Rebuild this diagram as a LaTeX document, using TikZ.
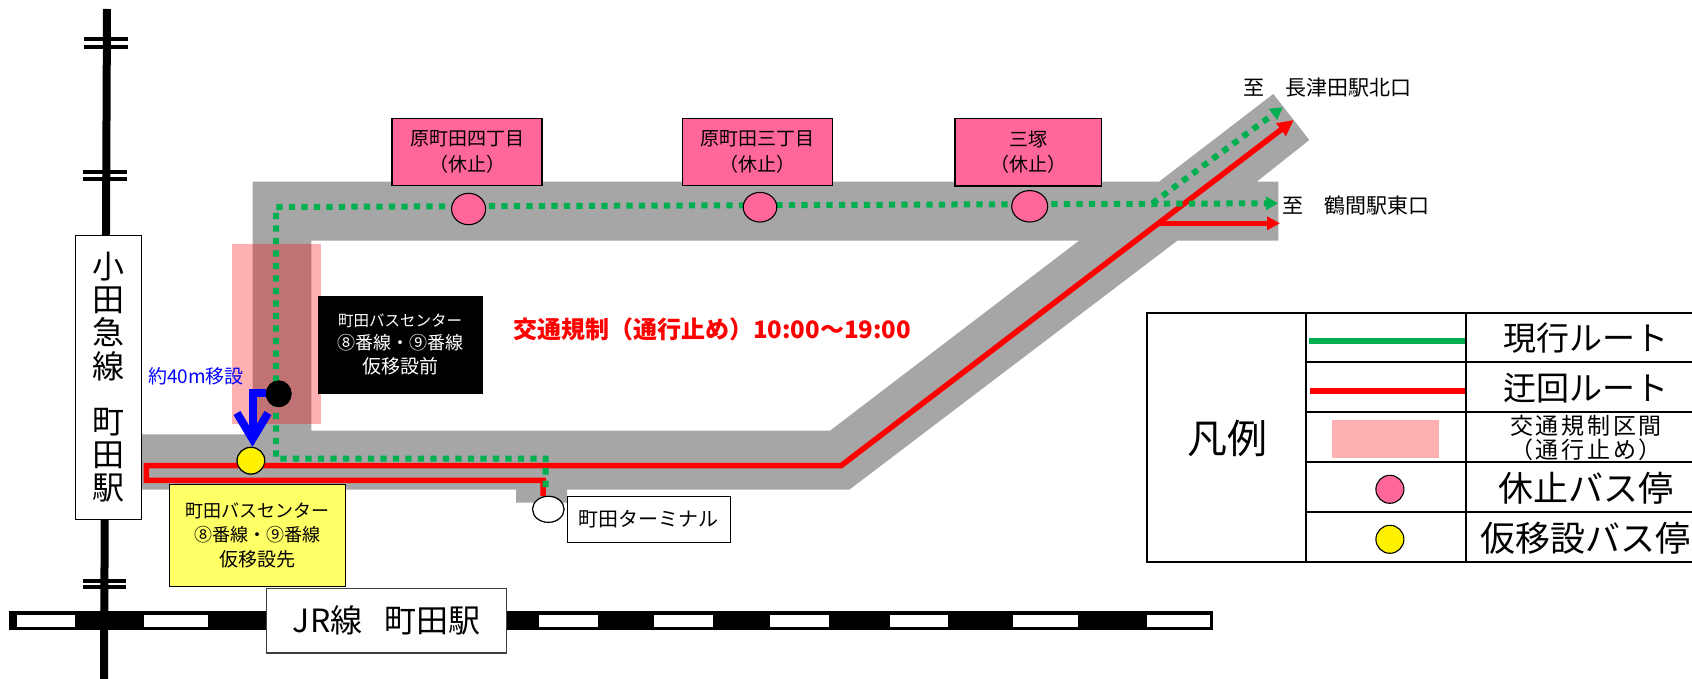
\documentclass[tikz,border=0pt]{standalone}
\usepackage{fontspec}
\setmainfont{Noto Sans CJK JP}
\newfontfamily\jpwide[LetterSpace=12]{Noto Sans CJK JP}
\usetikzlibrary{arrows.meta,shapes.geometric}
\definecolor{roadgray}{HTML}{A6A6A6}
\definecolor{routegreen}{HTML}{00B050}
\definecolor{stoppink}{HTML}{FF6699}
\definecolor{zonepink}{HTML}{FFB0B0}
\definecolor{boxyellow}{HTML}{FFFF66}
\newcommand{\fsz}[1]{\fontsize{#1}{#1}\selectfont}
\newcommand{\dnn}[1]{\raisebox{-2pt}{#1}}
\tikzset{
  lbl/.style={inner sep=0pt,align=center},
  tick/.style={line width=4pt},
  rail/.style={line width=8pt},
  boxed/.style={draw=black,line width=1.1pt,inner sep=0pt,align=center},
  pinkbox/.style={boxed,fill=stoppink,minimum height=67.5pt,font=\fsz{19},execute at begin node={\baselineskip=25.5pt}},
  stopmark/.style={ellipse,draw=black,line width=1.1pt,inner sep=0pt},
  greenroute/.style={draw=routegreen,line width=6pt,dash pattern=on 6.3pt off 6.2pt},
  redroute/.style={draw=red,line width=5.5pt},
  legline/.style={line width=2pt,draw=black},
}
\begin{document}
\begin{tikzpicture}[x=1pt,y=-1pt]
\useasboundingbox[fill=white] (0,0) rectangle (1692,679);
% Odakyu line
\coordinate (odT) at (107,9);
\coordinate (odB) at (104,679);
\draw[rail] (odT) -- (odB);
\foreach \yy in {39,46.7}{\draw[tick] (84,\yy) -- (128,\yy);}
\foreach \yy in {172,179}{\draw[tick] (83,\yy) -- (127,\yy);}
\foreach \yy in {580.5,587}{\draw[tick] (83,\yy) -- (126,\yy);}
% JR line
\fill[black] (8.6,611) rectangle (1212.7,630.3);
\foreach \xa/\xb in {16.8/75.4,144/207.5,539.3/598,654.3/713,770.3/829,889.7/948,1013.3/1077.7,1147.3/1209.7}{
  \fill[white] (\xa,614.8) rectangle (\xb,626.5);}
% Road
\fill[roadgray,even odd rule]
  (142,434.3) -- (252.5,434.3) -- (252.5,181.7) -- (1159,181.7) -- (1273.3,94) -- (1309.3,140)
  -- (1256.7,181.7) -- (1278.3,181.7) -- (1278.3,240.7) -- (1177.3,240.7) -- (849.3,489.7)
  -- (567,489.7) -- (567,502.7) -- (516,502.7) -- (516,489.7) -- (142,489.7) -- cycle
  (311.4,240.7) -- (1079,240.7) -- (830,430.7) -- (311.4,430.7) -- cycle;
% Closed zone
\fill[red,opacity=.31] (232,244) rectangle (321,423.7);
% Stops
\node[stopmark,fill=black,minimum width=24.6pt,minimum height=25.6pt] (stopOld) at (278.7,393.8) {};
\node[stopmark,fill=yellow,minimum width=27.6pt,minimum height=26.6pt] (stopNew) at (250.9,460.7) {};
\node[stopmark,fill=white,minimum width=31.4pt,minimum height=26pt] (stopTerm) at (548.3,509.3) {};
% Routes
\coordinate (rRight) at (841,465.7);
\coordinate (rTip) at (1293.7,120);
\coordinate (rLeftT) at (146.4,465.7);
\coordinate (rLeftB) at (146.4,480.3);
\coordinate (rTermTop) at (543,480.3);
\coordinate (rFork) at (1161.7,221.5);
\coordinate (rEast) at (1280,223.3);
\draw[redroute,line join=miter,-{Triangle[length=16pt,width=15pt]}]
  (stopTerm.north -| rTermTop) -- (rTermTop) -- (rLeftB) -- (rLeftT) -- (rRight) -- (rTip);
\draw[draw=red,line width=4.5pt,-{Triangle[length=13pt,width=13pt]}] (rFork) -- (rFork |- rEast) -- (rEast);
\coordinate (gTermTop) at (545.7,458.5);
\coordinate (gBL) at (276,458.5);
\coordinate (gTL) at (276,207);
\coordinate (gEast) at (1278,203.3);
\coordinate (gFork) at (1152.3,203.3);
\coordinate (gNorth) at (1282.7,107.3);
\draw[greenroute,-{Triangle[length=12pt,width=13pt,sep=0pt]}]
  (545.7,487) -- (gTermTop) -- (gBL) -- (gTL) -- (gEast);
\draw[greenroute,-{Triangle[length=12pt,width=13pt]}] (gFork) -- (gNorth);
% Stops on the top road
\node[stopmark,fill=stoppink,minimum width=34pt,minimum height=31.4pt] (stop4) at (468.6,209) {};
\node[stopmark,fill=stoppink,minimum width=33.6pt,minimum height=29.6pt] (stop3) at (760,207.2) {};
\node[stopmark,fill=stoppink,minimum width=36pt,minimum height=31.4pt] (stopM) at (1029.7,206.3) {};
% redraw the two movement stops on top of the routes
\node[stopmark,fill=black,minimum width=24.6pt,minimum height=25.6pt] (stopOldB) at (278.7,393.8) {};
\node[stopmark,fill=yellow,minimum width=27.6pt,minimum height=26.6pt] (stopNewB) at (250.9,460.7) {};
\node[stopmark,fill=white,minimum width=31.4pt,minimum height=26pt] (stopTermB) at (548.3,509.3) {};
% Move arrow
\coordinate (mvCorner) at (252.5,393);
\draw[blue,line width=8pt,line join=miter,-{Straight Barb[length=26pt,width=31pt,line width=8pt]}]
  (stopOldB.west |- mvCorner) -- (mvCorner) -- (stopNewB.north -| mvCorner);
% Boxes
\node[boxed,fill=white,minimum width=66pt,minimum height=283.7pt,font=\fsz{32},
  execute at begin node={\baselineskip=33.3pt}] (odaBox) at (108.75,377.2)
  {小\\田\\急\\線\\[22pt]町\\田\\駅};
\node[boxed,fill=white,draw=black!75,minimum width=239.6pt,minimum height=64.3pt,font=\fsz{32}] (jrBox) at (386.6,620.8) {JR線\hspace{22pt}町田駅};
\node[fill=black,text=white,inner sep=0pt,minimum width=165pt,minimum height=97.7pt,align=center] (oldBox) at (400,344.8)
  {\fsz{15.5}町田バスセンター\\[5pt]\fsz{18}⑧番線・⑨番線\\[6pt]\fsz{19}仮移設前};
\node[boxed,fill=boxyellow,minimum width=176pt,minimum height=101.6pt,align=center] (newBox) at (257.4,535.5)
  {\fsz{18}町田バスセンター\\[6pt]\fsz{18}⑧番線・⑨番線\\[7pt]\fsz{19}仮移設先};
\node[boxed,fill=white,minimum width=163pt,minimum height=45.6pt,font=\fsz{20}] (termBox) at (648.8,519.5) {\raisebox{-3pt}{町田ターミナル}};
\node[pinkbox,minimum width=150pt] (pb4) at (467,151.9) {\dnn{原町田四丁目}\\\dnn{（休止）}};
\node[pinkbox,minimum width=150.3pt] (pb3) at (757.2,152) {\dnn{原町田三丁目}\\\dnn{（休止）}};
\node[pinkbox,minimum width=146.7pt] (pbM) at (1028.3,152.3) {\dnn{三塚}\\\dnn{（休止）}};
% Labels
\node[lbl,text=blue,font=\fsz{19}] (mvLabel) at (196,376) {約40m移設};
\node[lbl,text=red,font=\fsz{24}\bfseries] (notice) at (712,329) {交通規制（通行止め）10:00～19:00};
\node[lbl,font=\fsz{21}] (toN) at (1327,88) {至　長津田駅北口};
\node[lbl,font=\fsz{21}] (toE) at (1356,206) {至　鶴間駅東口};
% Legend
\draw[legline] (1146.5,313) -- (1694,313);
\draw[legline] (1146.5,562) -- (1694,562);
\draw[legline] (1146.5,312) -- (1146.5,563);
\draw[legline] (1306.3,312) -- (1306.3,563);
\draw[legline] (1465.8,312) -- (1465.8,563);
\foreach \yy in {362.3,412.3,462.3,511.7}{\draw[legline] (1306.3,\yy) -- (1694,\yy);}
\coordinate (lgA) at (1308.5,341);
\coordinate (lgB) at (1465,341);
\coordinate (lrA) at (1309.6,391);
\coordinate (lrB) at (1465,391);
\draw[draw=routegreen,line width=6.5pt] (lgA) -- (lgB);
\draw[draw=red,line width=6.5pt] (lrA) -- (lrB);
\fill[zonepink] (1332,420) rectangle (1439,457.7);
\node[stopmark,fill=stoppink,minimum width=28pt,minimum height=28pt] (lgPink) at (1389.9,489.3) {};
\node[stopmark,fill=yellow,minimum width=28pt,minimum height=28pt] (lgYellow) at (1389.9,539.3) {};
\node[lbl,font=\fsz{40}] (lgTitle) at (1227.5,438.3) {凡例};
\node[lbl,font=\fsz{33}] (lgT1) at (1586,338) {現行ルート};
\node[lbl,font=\fsz{33}] (lgT2) at (1586,387.7) {迂回ルート};
\node[lbl,font=\jpwide\fsz{23}] (lgT3a) at (1586,426) {交通規制区間};
\node[lbl,font=\jpwide\fsz{23}] (lgT3b) at (1586,449.5) {（通行止め）};
\node[lbl,font=\fsz{35}] (lgT4) at (1586,488.3) {休止バス停};
\node[lbl,font=\fsz{35}] (lgT5) at (1585.6,538) {仮移設バス停};
\end{tikzpicture}
\end{document}
